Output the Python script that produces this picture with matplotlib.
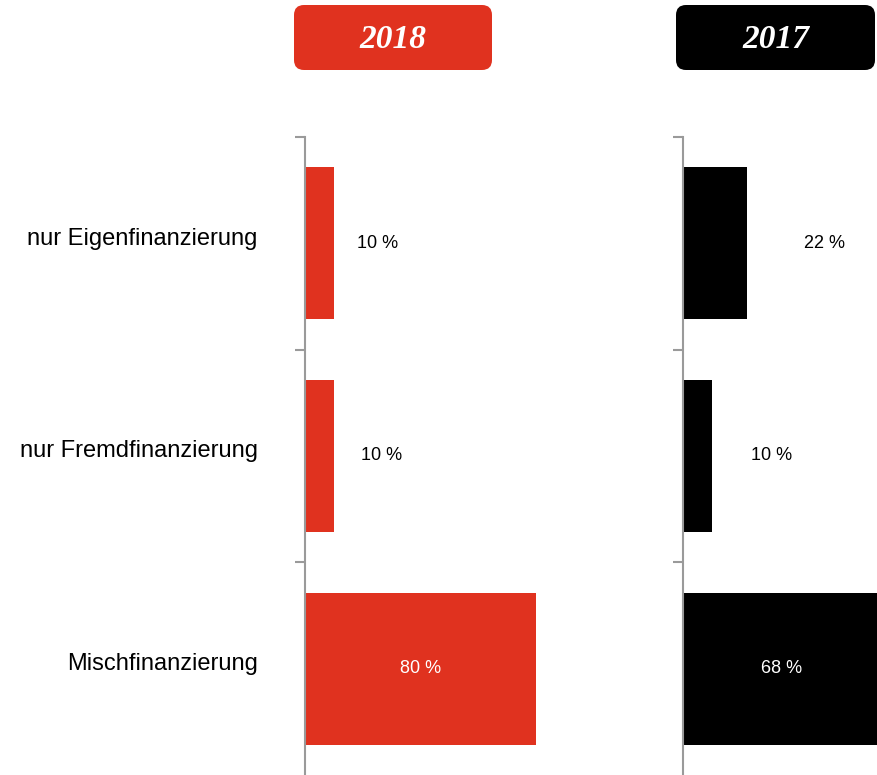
import matplotlib
matplotlib.use("Agg")
import matplotlib.pyplot as plt
import matplotlib.transforms as mtransforms
from matplotlib.patches import FancyBboxPatch

CATEGORIES = ["nur Eigenfinanzierung", "nur Fremdfinanzierung", "Mischfinanzierung"]
YEARS = ["2018", "2017"]
VALUES_2018 = [10, 10, 80]
VALUES_2017 = [22, 10, 68]

RED = "#E0321F"
BLACK = "#000000"
AXIS_GREY = "#9A9A9A"

# label x positions (data units) for the values, as placed in the original
LABEL_X_2018 = [25, 26.6, 40]
LABEL_X_2017 = [49, 30.8, 34]

W, H = 877, 775
fig = plt.figure(figsize=(W / 100, H / 100), dpi=100)
plt.rcParams["font.family"] = ["Liberation Sans", "DejaVu Sans"]


def px_axes(left, top, width, height):
    return fig.add_axes([left / W, 1 - (top + height) / H, width / W, height / H])


panels = [
    (305, VALUES_2018, LABEL_X_2018, RED, True),
    (683, VALUES_2017, LABEL_X_2017, BLACK, False),
]

for x0, values, label_x, color, show_cats in panels:
    ax = px_axes(x0, 137, 289, 638)
    pos = list(range(len(CATEGORIES)))
    ax.barh(pos, values, height=0.715, color=color, left=0)
    ax.set_xlim(0, 100)
    ax.set_ylim(len(CATEGORIES) - 0.5, -0.5)
    for s in ["top", "right", "bottom"]:
        ax.spines[s].set_visible(False)
    ax.spines["left"].set_color(AXIS_GREY)
    ax.spines["left"].set_linewidth(1.5)
    ax.set_xticks([])
    ax.set_yticks(pos)
    ax.tick_params(axis="y", which="major", length=0, pad=34, labelsize=17)
    ax.set_yticks([p - 0.5 for p in pos], minor=True)
    ax.tick_params(axis="y", which="minor", length=7, width=1.5, color=AXIS_GREY, direction="out")
    if show_cats:
        ax.set_yticklabels(CATEGORIES)
        shift = mtransforms.ScaledTranslation(0, 7 / 100, fig.dpi_scale_trans)
        for lbl in ax.get_yticklabels():
            lbl.set_transform(lbl.get_transform() + shift)
    else:
        ax.set_yticklabels([])

    for i, (v, lx) in enumerate(zip(values, label_x)):
        inside = v > 40
        ax.text(lx, i, "{} %".format(v), ha="center", va="center", fontsize=13,
                color="white" if inside else "black", clip_on=False)

# header boxes
hdr = fig.add_axes([0, 0, 1, 1])
hdr.set_xlim(0, W)
hdr.set_ylim(H, 0)
hdr.axis("off")
hdr.patch.set_alpha(0)
boxes = [(294, 492, RED), (676, 875, BLACK)]
for (bx0, bx1, bcol), year in zip(boxes, YEARS):
    hdr.add_patch(FancyBboxPatch((bx0, 5), bx1 - bx0, 65,
                                 boxstyle="round,pad=0,rounding_size=10",
                                 facecolor=bcol, edgecolor="none"))
    hdr.text((bx0 + bx1) / 2, 39, year, ha="center", va="center", color="white",
             fontsize=24, fontweight="bold", fontstyle="italic",
             family=["Liberation Serif", "DejaVu Serif"])

fig.savefig("out.png", dpi=100)
